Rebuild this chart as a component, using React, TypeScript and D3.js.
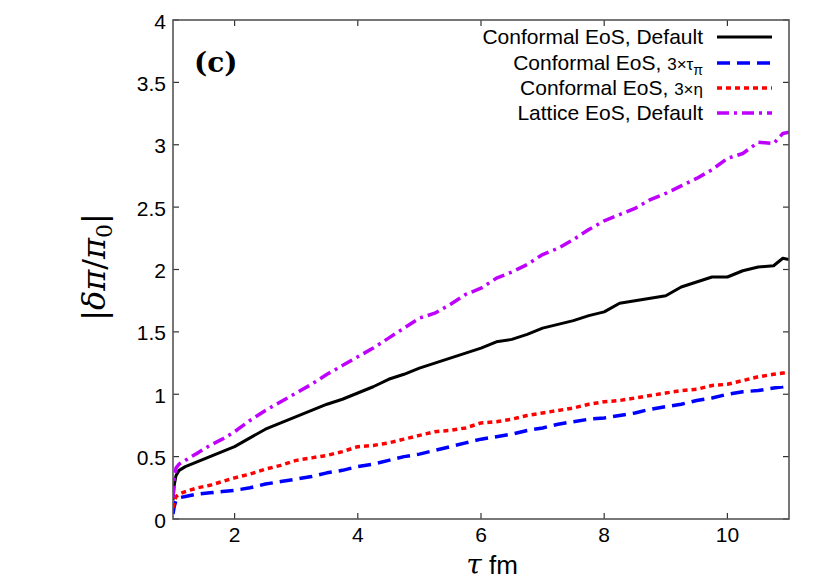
import React from "react";
import * as d3 from "d3";

const tau = [1.0, 1.02, 1.05, 1.1, 1.2, 1.4, 1.6, 1.8, 2.0, 2.25, 2.5, 2.75, 3.0, 3.25, 3.5, 3.75, 4.0, 4.25, 4.5, 4.75, 5.0, 5.25, 5.5, 5.75, 6.0, 6.25, 6.5, 6.75, 7.0, 7.25, 7.5, 7.75, 8.0, 8.25, 8.5, 8.75, 9.0, 9.25, 9.5, 9.75, 10.0, 10.25, 10.5, 10.75, 10.9, 11.0];

const confDefault = [0.15, 0.27, 0.35, 0.39, 0.42, 0.46, 0.50, 0.54, 0.58, 0.65, 0.72, 0.77, 0.82, 0.87, 0.92, 0.96, 1.01, 1.06, 1.12, 1.16, 1.21, 1.25, 1.29, 1.33, 1.37, 1.42, 1.44, 1.48, 1.53, 1.56, 1.59, 1.63, 1.66, 1.73, 1.75, 1.77, 1.79, 1.86, 1.90, 1.94, 1.94, 1.99, 2.02, 2.03, 2.09, 2.08];
const confTau3 = [0.04, 0.10, 0.15, 0.17, 0.18, 0.20, 0.21, 0.22, 0.23, 0.25, 0.28, 0.30, 0.32, 0.34, 0.37, 0.39, 0.42, 0.44, 0.47, 0.50, 0.52, 0.55, 0.58, 0.61, 0.64, 0.66, 0.68, 0.71, 0.73, 0.76, 0.78, 0.80, 0.81, 0.83, 0.85, 0.88, 0.90, 0.92, 0.95, 0.97, 1.00, 1.02, 1.03, 1.05, 1.06, 1.07];
const confEta3 = [0.09, 0.14, 0.18, 0.20, 0.22, 0.25, 0.27, 0.30, 0.33, 0.36, 0.40, 0.43, 0.47, 0.49, 0.51, 0.54, 0.58, 0.59, 0.61, 0.64, 0.67, 0.70, 0.71, 0.73, 0.77, 0.78, 0.80, 0.83, 0.85, 0.87, 0.89, 0.92, 0.94, 0.95, 0.97, 0.99, 1.01, 1.03, 1.04, 1.07, 1.08, 1.11, 1.14, 1.16, 1.17, 1.17];
const latticeDefault = [0.17, 0.33, 0.41, 0.44, 0.47, 0.53, 0.59, 0.64, 0.70, 0.79, 0.87, 0.94, 1.01, 1.08, 1.16, 1.23, 1.30, 1.37, 1.45, 1.53, 1.61, 1.65, 1.72, 1.80, 1.85, 1.93, 1.98, 2.04, 2.12, 2.17, 2.24, 2.32, 2.39, 2.44, 2.49, 2.56, 2.61, 2.67, 2.73, 2.80, 2.89, 2.93, 3.02, 3.01, 3.09, 3.10];

const xTicks = [2, 4, 6, 8, 10];
const yTicks = [0, 0.5, 1, 1.5, 2, 2.5, 3, 3.5, 4];
const yTickLabels = ["0", "0.5", "1", "1.5", "2", "2.5", "3", "3.5", "4"];

const series = [
  { key: "cd", values: confDefault, color: "#000000", dash: "none", width: 3 },
  { key: "ct", values: confTau3, color: "#0000ff", dash: "13,7", width: 3.5 },
  { key: "ce", values: confEta3, color: "#ff0000", dash: "5,4", width: 3.5 },
  { key: "ld", values: latticeDefault, color: "#bf00ff", dash: "12,5,3,5", width: 3.5 },
];

const L = 173, R = 789, T = 20, B = 519;

export default function App() {
  const x = d3.scaleLinear().domain([1, 11]).range([L, R]);
  const y = d3.scaleLinear().domain([0, 4]).range([B, T]);
  const line = (vals: number[]) =>
    d3.line<number>().x((_, i) => x(tau[i])).y((v) => y(v))(vals) || "";

  const font = "'Liberation Sans', Arial, sans-serif";
  const serif = "'DejaVu Serif', 'Liberation Serif', serif";
  const legendX2 = 703;
  const lx1 = 717, lx2 = 772;
  const rows = [37, 63, 88, 113];

  return (
    <svg width={830} height={587} style={{ position: "absolute", left: 0, top: 0, background: "#fff" }}>
      <defs>
        <clipPath id="plot">
          <rect x={L} y={T} width={R - L} height={B - T} />
        </clipPath>
      </defs>
      <rect x={0} y={0} width={830} height={587} fill="#fff" />
      {xTicks.map((t) => (
        <g key={"xt" + t}>
          <line x1={x(t)} x2={x(t)} y1={B} y2={B - 6} stroke="#333" strokeWidth={1.2} />
          <line x1={x(t)} x2={x(t)} y1={T} y2={T + 6} stroke="#333" strokeWidth={1.2} />
          <text x={x(t)} y={B + 23} textAnchor="middle" fontFamily={font} fontSize={21} fill="#000">
            {t}
          </text>
        </g>
      ))}
      {yTicks.map((t, i) => (
        <g key={"yt" + t}>
          <line x1={L} x2={L + 6} y1={y(t)} y2={y(t)} stroke="#333" strokeWidth={1.2} />
          <line x1={R} x2={R - 6} y1={y(t)} y2={y(t)} stroke="#333" strokeWidth={1.2} />
          <text x={L - 7} y={y(t) + 8.5} textAnchor="end" fontFamily={font} fontSize={21} fill="#000">
            {yTickLabels[i]}
          </text>
        </g>
      ))}
      <g clipPath="url(#plot)">
        {series.map((s) => (
          <path
            key={s.key}
            d={line(s.values)}
            fill="none"
            stroke={s.color}
            strokeWidth={s.width}
            strokeDasharray={s.dash}
            strokeLinejoin="round"
          />
        ))}
      </g>
      <rect x={L} y={T} width={R - L} height={B - T} fill="none" stroke="#555" strokeWidth={1.6} />
      <text x={194} y={72} fontFamily={serif} fontWeight="bold" fontSize={28} fill="#000">
        (c)
      </text>
      <g fontFamily={font} fontSize={21} fill="#000">
        <text x={legendX2} y={rows[0] + 7} textAnchor="end">Conformal EoS, Default</text>
        <text x={legendX2} y={rows[1] + 7} textAnchor="end">
          Conformal EoS, <tspan fontSize={17}>3×τ</tspan>
          <tspan fontSize={14} dy={5}>π</tspan>
        </text>
        <text x={legendX2} y={rows[2] + 7} textAnchor="end">
          Conformal EoS, <tspan fontSize={17}>3×η</tspan>
        </text>
        <text x={legendX2} y={rows[3] + 7} textAnchor="end">Lattice EoS, Default</text>
      </g>
      {series.map((s, i) => (
        <line
          key={"lg" + s.key}
          x1={lx1}
          x2={lx2}
          y1={rows[i]}
          y2={rows[i]}
          stroke={s.color}
          strokeWidth={s.width}
          strokeDasharray={s.dash}
        />
      ))}
      <text x={492} y={574} textAnchor="middle" fill="#000">
        <tspan fontFamily={serif} fontStyle="italic" fontSize={28}>τ</tspan>
        <tspan fontFamily={font} fontSize={26}> fm</tspan>
      </text>
      <text
        transform={`translate(105, 267) rotate(-90)`}
        textAnchor="middle"
        fontFamily={serif}
        fontSize={32}
        fill="#000"
      >
        |<tspan fontStyle="italic">δπ</tspan>/<tspan fontStyle="italic">π</tspan>
        <tspan fontSize={22} dy={7}>0</tspan>
        <tspan dy={-7}>|</tspan>
      </text>
    </svg>
  );
}
